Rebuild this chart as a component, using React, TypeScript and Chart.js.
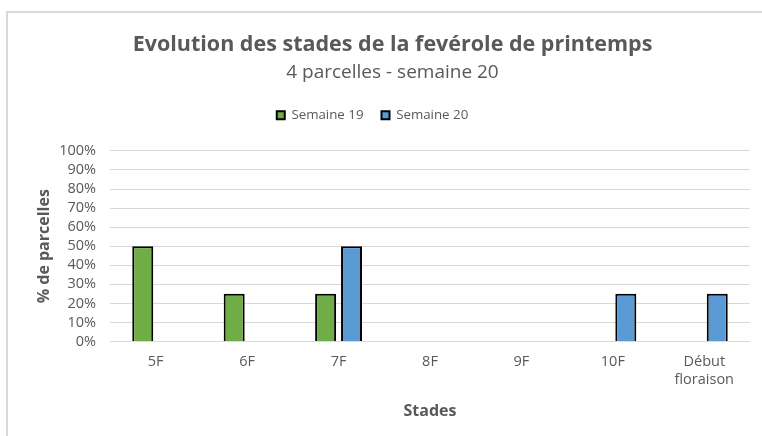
import React, { useEffect, useRef } from "react";
import { Chart, registerables } from "chart.js";

Chart.register(...registerables);

const categories: (string | string[])[] = ["5F", "6F", "7F", "8F", "9F", "10F", ["Début", "floraison"]];
const semaine19: (number | null)[] = [50, 25, 25, null, null, null, null];
const semaine20: (number | null)[] = [null, null, 50, null, null, 25, 25];
const yTicks = [0, 10, 20, 30, 40, 50, 60, 70, 80, 90, 100];

const FONT = "'Open Sans', 'Liberation Sans', sans-serif";
const GRAY = "#595959";

export default function App() {
  const ref = useRef<HTMLCanvasElement>(null);
  useEffect(() => {
    document.body.style.margin = "0";
    const legendMargin = {
      id: "legendMargin",
      beforeInit(chart: any) {
        const orig = chart.legend.fit;
        chart.legend.fit = function () {
          orig.bind(chart.legend)();
          this.height += 19;
        };
      },
      afterLayout(chart: any) {
        chart.legend.left -= 20;
        chart.legend.right -= 20;
      },
    };
    const chart = new Chart(ref.current!, {
      type: "bar",
      data: {
        labels: categories,
        datasets: [
          {
            label: "Semaine 19",
            data: semaine19,
            backgroundColor: "#70AD47",
            borderColor: "#000000",
            borderWidth: 2,
            categoryPercentage: 0.567,
            barPercentage: 0.81,
          },
          {
            label: "Semaine 20",
            data: semaine20,
            backgroundColor: "#5B9BD5",
            borderColor: "#000000",
            borderWidth: 2,
            categoryPercentage: 0.567,
            barPercentage: 0.81,
          },
        ],
      },
      plugins: [legendMargin],
      options: {
        responsive: false,
        animation: false,
        layout: { padding: { left: 35, right: 12, top: 32, bottom: 15 } },
        plugins: {
          title: {
            display: true,
            text: "Evolution des stades de la fevérole de printemps",
            color: GRAY,
            font: { family: FONT, size: 21.5, weight: "bold" },
            padding: { top: 0, bottom: 3 },
          },
          subtitle: {
            display: true,
            text: "4 parcelles - semaine 20",
            color: GRAY,
            font: { family: FONT, size: 19 },
            padding: { top: 0, bottom: 7 },
          },
          legend: {
            display: true,
            position: "top",
            labels: {
              color: GRAY,
              font: { family: FONT, size: 13.3 },
              boxWidth: 8,
              boxHeight: 8,
              padding: 18,
            },
          },
          tooltip: { enabled: false },
        },
        scales: {
          x: {
            grid: { display: false, drawTicks: false },
            border: { display: false },
            ticks: { color: GRAY, font: { family: FONT, size: 14.5 }, padding: 12, maxRotation: 0, autoSkip: false },
            title: {
              display: true,
              text: "Stades",
              color: GRAY,
              font: { family: FONT, size: 16, weight: "bold" },
              padding: { top: 1.5, bottom: 0 },
            },
          },
          y: {
            min: 0,
            max: 100,
            afterFit: (s: any) => {
              s.width = 75;
            },
            afterBuildTicks: (s: any) => {
              s.ticks = yTicks.map((v) => ({ value: v }));
            },
            grid: { color: "#d9d9d9", lineWidth: 1, drawTicks: false },
            border: { display: false },
            ticks: {
              color: GRAY,
              font: { family: FONT, size: 14.5 },
              padding: 14,
              autoSkip: false,
              callback: (v: any) => v + "%",
            },
            title: {
              display: true,
              text: "% de parcelles",
              color: GRAY,
              font: { family: FONT, size: 16, weight: "bold" },
              padding: { top: 0, bottom: 6 },
            },
          },
        },
      },
    });
    return () => chart.destroy();
  }, []);
  return (
    <div style={{ position: "relative", width: 762, height: 436, background: "#fff", overflow: "hidden" }}>
      <div
        style={{
          position: "absolute",
          left: 6,
          top: 11,
          width: 800,
          height: 500,
          borderLeft: "2px solid #d9d9d9",
          borderTop: "2px solid #d9d9d9",
        }}
      />
      <canvas ref={ref} width={762} height={436} style={{ position: "absolute", left: 0, top: 0 }} />
    </div>
  );
}
